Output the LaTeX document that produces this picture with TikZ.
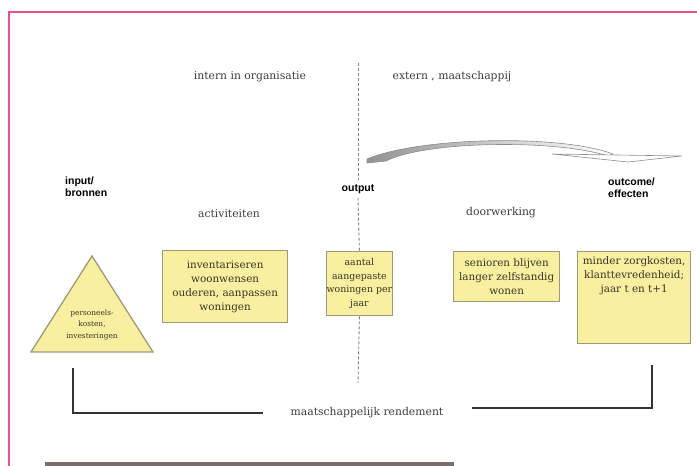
\documentclass[tikz,border=0pt]{standalone}
\usepackage{fontspec}
\usepackage{xcolor}
\usetikzlibrary{positioning}
\newfontfamily\dejaserif{DejaVu Serif}
\newfontfamily\libsans{Liberation Sans}
\definecolor{cardfill}{HTML}{F8EFA0}
\definecolor{cardline}{HTML}{9E9A78}
\definecolor{cardink}{HTML}{3A3526}
\definecolor{headink}{HTML}{3C3C3C}
\definecolor{framepink}{HTML}{EC4A9C}
\definecolor{barbrown}{HTML}{7A6E6A}

\begin{document}
\begin{tikzpicture}[
    x=1pt, y=-1pt,
    card/.style={rectangle, draw=cardline, fill=cardfill, line width=1.3pt, inner sep=0pt, anchor=north west, align=center, text=cardink, font=\dejaserif\fontsize{10.4}{14.2}\selectfont},
    cardtext/.style={font=\dejaserif\fontsize{10.4}{14.2}\selectfont, text=cardink, align=center, inner sep=0pt},
    head/.style={font=\dejaserif\fontsize{10.8}{13}\selectfont, text=headink, inner sep=2pt},
    tag/.style={font=\libsans\bfseries\fontsize{10.5}{12}\selectfont, align=left, inner sep=0pt},
    divider/.style={gray, densely dashed, line width=0.9pt},
    bracket/.style={black!80, line width=1.8pt},
]
    \useasboundingbox (0,0) rectangle (697,466);

    % page frame and bottom bar
    \draw[framepink, line width=1.4pt] (9,466) -- (9,12) -- (697,12);
    \fill[barbrown] (45,462) rectangle (454,466);

    % column headings
    \node[head] (internlbl) at (250,77) {intern in organisatie};
    \node[head] (externlbl) at (452,77) {extern , maatschappij};
    \node[tag, anchor=west] (inputlbl) at (65,187) {input/\\bronnen};
    \node[tag, inner sep=4pt] (outputlbl) at (358,189) {output};
    \node[tag, anchor=west] (outcomelbl) at (608,188) {outcome/\\effecten};
    \node[head] (actlbl) at (229,214) {activiteiten};
    \node[head] (effectlbl) at (501,213) {doorwerking};

    % resources triangle
    \filldraw[draw=cardline, fill=cardfill, line width=1.3pt] (92,256) -- (153,352) -- (31,352) -- cycle;
    \node[cardtext, font=\dejaserif\fontsize{7.4}{11.5}\selectfont] (restext) at (92,325) {personeels-\\kosten,\\investeringen};

    % chain boxes
    \node[card, minimum width=125pt, minimum height=72pt] (activities) at (162,250) {inventariseren\\woonwensen\\ouderen, aanpassen\\woningen};
    \node[card, minimum width=65pt, minimum height=64pt, font=\dejaserif\fontsize{9.4}{13.5}\selectfont] (output) at (326,251) {aantal\\aangepaste\\woningen per\\jaar};
    \node[card, minimum width=106pt, minimum height=50pt] (effect) at (453,251) {senioren blijven\\langer zelfstandig\\wonen};
    \node[card, minimum width=113pt, minimum height=92pt] (outcome) at (577,251) {};
    \node[cardtext, below=5pt of outcome.north] (outcometext) {minder zorgkosten,\\klanttevredenheid;\\jaar t en t+1};

    % divider between organisation and society
    \coordinate (divtop) at (358,63);
    \coordinate (divend) at (358,383);
    \draw[divider] (divtop) -- (outputlbl.north);
    \draw[divider] (outputlbl.south) -- (output.north);
    \draw[divider] (output.south) -- (divend);

    % curved arrow output -> outcome
    \shade[left color=gray!85, right color=white, draw=gray!90, line width=0.6pt]
        (367,159) .. controls (420,137) and (560,134) .. (613,154)
        -- (608,156) .. controls (555,139) and (425,141) .. (386,161) -- (367,163) -- cycle;
    \filldraw[fill=white, draw=gray!90, line width=0.6pt] (552,154) -- (682,156) -- (628,162) -- cycle;

    % social return bracket
    \node[head] (returnlbl) at (367,413) {maatschappelijk rendement};
    \coordinate (leftfoot) at (73,368);
    \coordinate (rightfoot) at (652,365);
    \draw[bracket] (leftfoot) |- ([xshift=-25pt]returnlbl.west);
    \draw[bracket] (rightfoot) |- ([xshift=26pt, yshift=5pt]returnlbl.east);
\end{tikzpicture}
\end{document}
